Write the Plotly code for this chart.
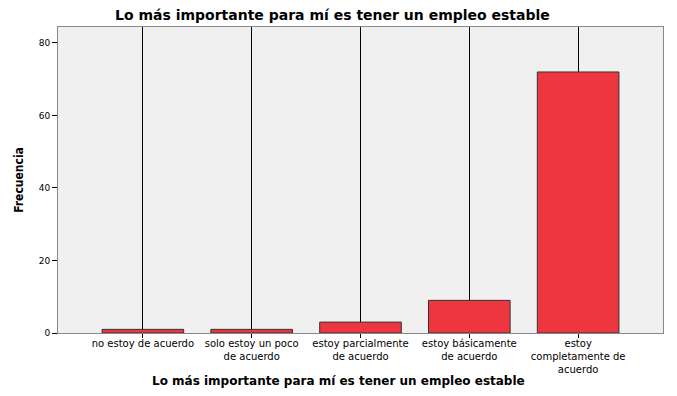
import plotly.graph_objects as go

categories = ["no estoy de acuerdo", "solo estoy un poco<br>de acuerdo",
              "estoy parcialmente<br>de acuerdo", "estoy básicamente<br>de acuerdo",
              "estoy<br>completamente de<br>acuerdo"]
frecuencia = [1, 1, 3, 9, 72]
y_ticks = [0, 20, 40, 60, 80]
title_text = "Lo más importante para mí es tener un empleo estable"

fig = go.Figure(go.Bar(
    x=list(range(len(categories))), y=frecuencia, width=0.75,
    marker=dict(color="#EE3640", line=dict(color="#333333", width=1)),
))
fig.update_layout(
    width=677, height=396,
    margin=dict(l=58, r=14, t=27, b=63, autoexpand=False),
    paper_bgcolor="white", plot_bgcolor="#F0F0F0",
    showlegend=False,
    title=dict(text="<b>" + title_text + "</b>", x=0.491, xanchor="center", y=0.962, yanchor="middle",
               font=dict(family="DejaVu Sans", size=14, color="black")),
    font=dict(family="DejaVu Sans", size=9, color="black"),
)
fig.update_xaxes(
    automargin=False,
    range=[-0.78, 4.78], tickmode="array", tickvals=list(range(len(categories))),
    ticktext=categories, ticks="outside", ticklen=4, tickcolor="black",
    ticklabelstandoff=-3,
    showgrid=True, gridcolor="#000000", gridwidth=1,
    showline=True, linecolor="#888888", mirror=True, zeroline=False,
    tickfont=dict(family="DejaVu Sans", size=10),
)
fig.add_annotation(
    text="<b>" + title_text + "</b>", xref="paper", yref="paper",
    x=(338 - 58) / 605, y=-(381 - 333) / 306, xanchor="center", yanchor="middle",
    showarrow=False, font=dict(family="DejaVu Sans", size=12, color="black"),
)
fig.update_yaxes(
    automargin=False,
    range=[0, 84.4], tickmode="array", tickvals=y_ticks, ticks="outside", ticklen=5,
    tickcolor="black", showgrid=False, zeroline=False,
    showline=True, linecolor="#888888", mirror=True,
    tickfont=dict(family="DejaVu Sans", size=9),
    title=dict(text="<b>Frecuencia</b>", standoff=12,
               font=dict(family="Liberation Sans Narrow, DejaVu Sans Condensed", size=12)),
)
fig.write_html("out.html", config={"displayModeBar": False},
               post_script="document.body.style.margin='0';")
